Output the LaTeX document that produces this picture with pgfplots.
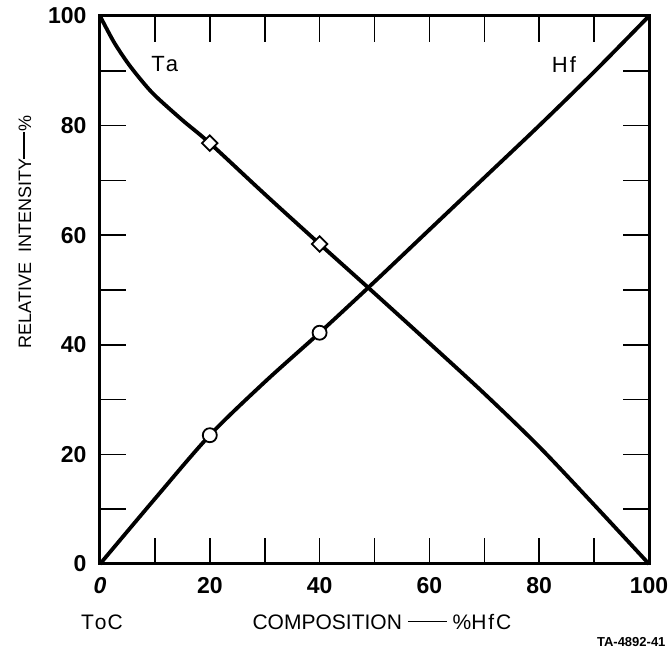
\documentclass[border=0pt]{standalone}
\usepackage{fontspec}
\setmainfont{Liberation Sans}
\usepackage{pgfplots}
\pgfplotsset{compat=1.18}
\begin{document}
\begin{tikzpicture}
\begin{axis}[
  name=ax,
  scale only axis,
  width=549pt, height=548pt,
  xmin=0, xmax=100, ymin=0, ymax=100,
  axis line style={line width=3pt},
  xtick={0,20,40,60,80,100},
  xticklabels={\textit{0},20,40,60,80,100},
  minor xtick={10,30,50,70,90},
  ytick={0,20,40,60,80,100},
  minor ytick={10,30,50,70,90},
  tick align=inside,
  major tick length=26pt,
  minor tick length=26pt,
  tick style={line width=1.6pt, black},
  /pgf/number format/assume math mode=true,
  tick label style={font=\fontsize{23}{23}\selectfont\bfseries},
  xticklabel style={yshift=-10pt},
  yticklabel style={xshift=-10pt},
  clip=false,
]
\addplot[line width=3.8pt, smooth, tension=0.5] coordinates {
 (0,100) (2.5,95.3) (5,91.5) (7.5,88.3) (10,85.5) (15,81.0) (20,76.8) (30,67.5) (40,58.4)
 (50,49.4) (60,40.3) (70,31.1) (80,21.4) (90,10.8) (100,0)};
\addplot[line width=3.8pt, smooth, tension=0.5] coordinates {
 (0,0) (10,11.9) (20,23.5) (30,33.2) (40,42.2) (50,51.5) (60,61.0) (70,70.5) (80,80.0) (90,89.8) (100,100)};
\addplot[only marks, mark=square*, mark size=5.5pt, mark options={rotate=45, fill=white, draw=black, line width=1.8pt}] coordinates {(20,76.8) (40,58.4)};
\addplot[only marks, mark=*, mark size=7pt, mark options={fill=white, draw=black, line width=1.8pt}] coordinates {(20,23.5) (40,42.2)};
\node[font=\fontsize{22}{22}\selectfont] at (axis cs:11.8,91.2) {T\kern1pt a};
\node[font=\fontsize{22}{22}\selectfont] at (axis cs:84.5,91.2) {H\kern2pt f};
\end{axis}
\pgfresetboundingbox
\path[use as bounding box] (-100pt,-88pt) rectangle (571pt,564pt);
\node[font=\fontsize{21}{21}\selectfont] at (2pt,-58pt) {T\kern1pt o\kern1pt C};
\node[font=\fontsize{21}{21}\selectfont] at (282pt,-58pt) {COMPOSITION \rule[0.35em]{39pt}{1.4pt} \%H\kern2pt f\kern2pt C};
\node[font=\fontsize{13}{13}\selectfont\bfseries, anchor=east] at (569pt,-78pt) {TA-4892-41};
\node[font=\fontsize{18}{18}\selectfont, rotate=90] at (-75pt,332pt) {RELATIVE\ \ INTENSITY\rule[0.35em]{27pt}{1.4pt}\%};
\end{tikzpicture}
\end{document}
